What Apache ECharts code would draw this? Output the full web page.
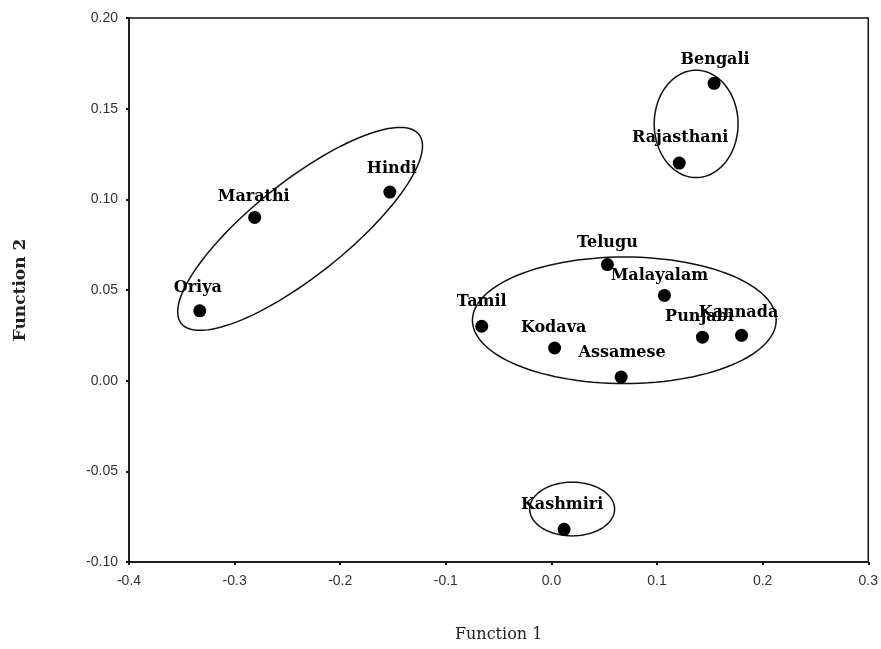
<!DOCTYPE html>
<html>
<head>
<meta charset="utf-8">
<script src="https://cdn.jsdelivr.net/npm/echarts@6/dist/echarts.min.js"></script>
<style>
html,body{margin:0;padding:0;background:#fff;}
#main{width:881px;height:649px;}
</style>
</head>
<body>
<div id="main"></div>
<script>
// ---- data ----
const languages = ['Oriya','Marathi','Hindi','Bengali','Rajasthani','Telugu','Malayalam','Tamil','Kodava','Assamese','Punjabi','Kannada','Kashmiri'];
const function1 = [-0.333,-0.281,-0.153,0.154,0.121,0.053,0.107,-0.066,0.003,0.066,0.143,0.180,0.012];
const function2 = [0.0385,0.090,0.104,0.164,0.120,0.064,0.047,0.030,0.018,0.002,0.024,0.025,-0.082];

// cluster ellipses: centre (F1, F2), semi-axes (F1 units, F2 units), tilt in degrees
const clusterCx = [0.137, 0.069, 0.0196, -0.238];
const clusterCy = [0.1416, 0.0333, -0.0708, 0.0837];
const clusterRx = [0.0397, 0.1438, 0.0402, 0.1438];
const clusterRy = [0.0296, 0.0349, 0.0148, 0.026];
const clusterTilt = [0, 0, 0, 38.5];

const xTicks = {min:-0.4, max:0.3, interval:0.1};
const yTicks = {min:-0.10, max:0.20, interval:0.05};

// label offsets (px) relative to each point, style only
const labelOffsets = {
  Oriya:[-2,-23], Marathi:[-1,-21], Hindi:[2,-23], Bengali:[1,-23], Rajasthani:[1,-25],
  Telugu:[0,-22], Malayalam:[-5,-20], Tamil:[0,-24], Kodava:[-1,-20], Assamese:[1,-24],
  Punjabi:[-3,-20], Kannada:[-3,-22], Kashmiri:[-2,-25]
};

const pointData = languages.map((n,i)=>({
  name:n, value:[function1[i], function2[i]],
  label:{offset:labelOffsets[n]}
}));
const ellipseData = clusterCx.map((c,i)=>[c, clusterCy[i], clusterRx[i], clusterRy[i], clusterTilt[i]]);

const chart = echarts.init(document.getElementById('main'));
const serif = '"DejaVu Serif", "Liberation Serif", serif';
const sans = '"Liberation Sans Narrow", "Liberation Sans", Arial, sans-serif';

chart.setOption({
  animation:false,
  backgroundColor:'#fff',
  grid:{left:129, right:12, top:18, bottom:87, show:true, borderColor:'#111', borderWidth:1.5},
  xAxis:{
    type:'value', min:xTicks.min, max:xTicks.max, interval:xTicks.interval,
    name:'Function 1', nameLocation:'middle', nameGap:65,
    nameTextStyle:{fontFamily:serif, fontSize:16, color:'#222'},
    axisLine:{onZero:false, lineStyle:{color:'#111', width:1.5}},
    axisTick:{show:true, length:3, lineStyle:{color:'#111', width:2}},
    axisLabel:{margin:12, fontFamily:sans, fontSize:14, color:'#333',
      formatter:v=>(Math.abs(v)<1e-9?0:v).toFixed(1)},
    splitLine:{show:false}
  },
  yAxis:{
    type:'value', min:yTicks.min, max:yTicks.max, interval:yTicks.interval,
    name:'Function 2', nameLocation:'middle', nameGap:100, nameRotate:90,
    nameTextStyle:{fontFamily:serif, fontSize:17, color:'#222', fontWeight:'bold'},
    axisLine:{onZero:false, lineStyle:{color:'#111', width:1.5}},
    axisTick:{show:true, length:3, lineStyle:{color:'#111', width:2}},
    axisLabel:{margin:11, fontFamily:sans, fontSize:14, color:'#333',
      formatter:v=>(Math.abs(v)<1e-9?0:v).toFixed(2)},
    splitLine:{show:false}
  },
  series:[
    {
      type:'custom', coordinateSystem:'cartesian2d', silent:true,
      data:ellipseData, encode:{x:0, y:1},
      renderItem:function(params, api){
        const c = api.coord([api.value(0), api.value(1)]);
        const s = api.size([api.value(2), api.value(3)]);
        const a = s[0], b = s[1];
        const th = api.value(4)*Math.PI/180;
        const pts = [];
        for(let k=0;k<120;k++){
          const t = k/120*Math.PI*2;
          const lx = a*Math.cos(t), ly = b*Math.sin(t);
          const rx = lx*Math.cos(th) - ly*Math.sin(th);
          const ry = lx*Math.sin(th) + ly*Math.cos(th);
          pts.push([c[0]+rx, c[1]-ry]);
        }
        return {type:'polygon', shape:{points:pts}, style:{fill:'none', stroke:'#111', lineWidth:1.5}};
      }
    },
    {
      type:'scatter', symbol:'circle', symbolSize:13, silent:true,
      itemStyle:{color:'#000', opacity:1},
      data:pointData,
      label:{show:true, position:'inside', formatter:'{b}',
        fontFamily:serif, fontSize:16, fontWeight:'bold', color:'#000'}
    }
  ]
});
</script>
</body>
</html>
